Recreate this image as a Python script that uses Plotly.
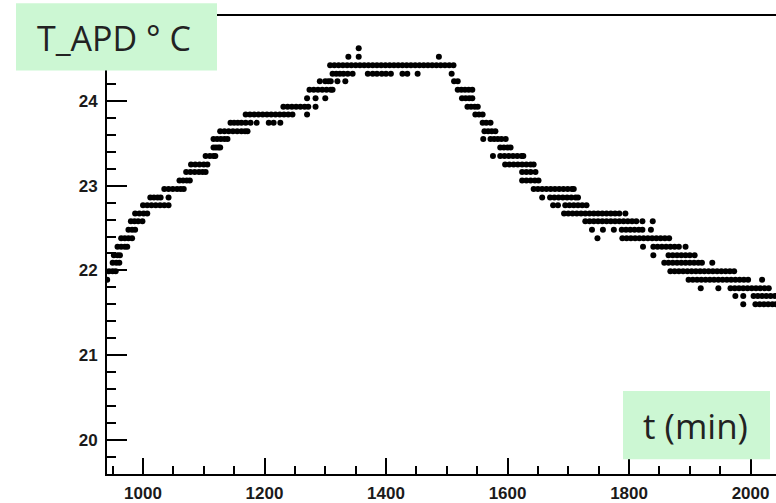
import plotly.graph_objects as go

# Temperature levels (deg C) read from the picture, and the times (min) at which
# points sit on each level.
temp_levels = [
    21.60, 21.70, 21.79, 21.89, 21.99, 22.09, 22.18, 22.28, 22.38, 22.48,
    22.58, 22.67, 22.77, 22.86, 22.96, 23.06, 23.16, 23.25, 23.35, 23.45,
    23.55, 23.64, 23.74, 23.84, 23.93, 24.03, 24.13, 24.23, 24.32, 24.42,
    24.52, 24.62,
]

times_at_level = [
    [1988, 2008, 2015, 2022, 2029, 2036, 2042],
    [1975, 1988, 2005, 2012, 2019, 2026, 2033, 2040],
    [1918, 1947, 1967, 1974, 1981, 1988, 1995, 2002, 2009, 2016, 2023, 2030],
    [941, 1898, 1905, 1912, 1919, 1926, 1933, 1940, 1947, 1954, 1961, 1968,
     1975, 1982, 1989, 1996, 2019],
    [944, 950, 955, 1868, 1875, 1882, 1889, 1896, 1903, 1910, 1917, 1924,
     1931, 1938, 1945, 1952, 1959, 1966, 1973],
    [950, 956, 961, 1858, 1865, 1872, 1879, 1886, 1893, 1900, 1907, 1914,
     1920, 1937],
    [952, 958, 962, 1840, 1865, 1872, 1879, 1886, 1893, 1900, 1908],
    [958, 964, 970, 974, 1823, 1840, 1847, 1854, 1861, 1868, 1875, 1882, 1893],
    [964, 970, 976, 982, 1748, 1789, 1796, 1803, 1810, 1817, 1824, 1831,
     1838, 1845, 1852, 1859, 1866],
    [976, 982, 987, 1739, 1757, 1775, 1788, 1795, 1802, 1809, 1816, 1822, 1836],
    [980, 986, 992, 999, 1728, 1735, 1742, 1749, 1756, 1763, 1770, 1777,
     1784, 1791, 1798, 1805, 1812, 1822, 1839],
    [987, 994, 1001, 1007, 1693, 1700, 1707, 1714, 1721, 1728, 1735, 1742,
     1749, 1756, 1763, 1770, 1777, 1784, 1794],
    [1000, 1007, 1014, 1021, 1028, 1035, 1042, 1675, 1683, 1695, 1702, 1709,
     1716, 1723, 1730],
    [1012, 1018, 1024, 1029, 1042, 1657, 1670, 1677, 1684, 1691, 1698, 1705,
     1712, 1716],
    [1035, 1042, 1049, 1056, 1062, 1067, 1643, 1650, 1657, 1664, 1671, 1678,
     1685, 1692, 1699, 1706, 1709],
    [1060, 1066, 1072, 1077, 1624, 1631, 1638, 1645, 1651],
    [1071, 1078, 1085, 1092, 1098, 1103, 1624, 1631, 1638, 1646],
    [1079, 1086, 1093, 1100, 1106, 1596, 1603, 1610, 1617, 1624, 1631, 1638, 1643],
    [1103, 1110, 1116, 1119, 1576, 1588, 1595, 1602, 1609, 1616, 1623, 1626],
    [1116, 1120, 1124, 1127, 1588, 1594, 1600, 1605],
    [1116, 1122, 1128, 1134, 1139, 1560, 1572, 1578, 1584, 1590, 1597],
    [1127, 1134, 1141, 1148, 1155, 1162, 1168, 1172, 1562, 1568, 1574, 1580],
    [1144, 1150, 1156, 1162, 1169, 1177, 1187, 1207, 1215, 1226, 1559, 1565, 1572],
    [1169, 1176, 1183, 1190, 1197, 1204, 1211, 1218, 1225, 1232, 1239, 1246,
     1270, 1547, 1553, 1559],
    [1231, 1238, 1245, 1252, 1259, 1266, 1272, 1284, 1534, 1540, 1546, 1551],
    [1270, 1284, 1300, 1525, 1531, 1537, 1542],
    [1274, 1281, 1288, 1295, 1302, 1309, 1312, 1518, 1524, 1530, 1536, 1542],
    [1291, 1300, 1305, 1309, 1320, 1333, 1512, 1518],
    [1312, 1318, 1324, 1330, 1337, 1345, 1370, 1378, 1385, 1393, 1400, 1408,
     1427, 1435, 1452, 1508],
    [1308, 1315, 1322, 1329, 1336, 1343, 1350, 1357, 1364, 1371, 1378, 1385,
     1392, 1399, 1406, 1413, 1420, 1427, 1434, 1441, 1448, 1455, 1462, 1469,
     1476, 1483, 1490, 1497, 1504, 1511],
    [1338, 1355, 1487],
    [1355],
]

x_ticks = [1000, 1200, 1400, 1600, 1800, 2000]
y_ticks = [20, 21, 22, 23, 24]
y_title = "T_APD ° C"
x_title = "t (min)"

# flatten into point table
t_pts, T_pts = [], []
for lvl, ts in zip(temp_levels, times_at_level):
    for t in ts:
        t_pts.append(t)
        T_pts.append(lvl)

W, H = 776, 503
L, R, T, B = 107, 0, 16, 24
PW, PH = W - L - R, H - T - B


def px(xp):
    return (xp - L) / PW


def py(yp):
    return (H - B - yp) / PH


fig = go.Figure(go.Scatter(
    x=t_pts, y=T_pts, mode="markers",
    marker=dict(size=6, color="black", line=dict(width=0)),
    hoverinfo="skip", showlegend=False,
))

axis_font = dict(family="Liberation Sans", size=17, color="#1a1a1a", weight="bold")

fig.update_layout(
    width=W, height=H,
    margin=dict(l=L, r=R, t=T, b=B, pad=0),
    paper_bgcolor="white", plot_bgcolor="white",
    xaxis=dict(
        range=[940.7, 2041.9], showgrid=False, zeroline=False,
        showline=True, linecolor="black", linewidth=2, mirror=True,
        tickmode="array", tickvals=x_ticks,
        ticks="inside", ticklen=16, tickwidth=2, tickcolor="black",
        minor=dict(ticks="inside", ticklen=8, tickwidth=2, dtick=50, tick0=950,
                   tickcolor="black", showgrid=False),
        tickfont=axis_font, ticklabelstandoff=3,
    ),
    yaxis=dict(
        range=[19.6, 25.0], showgrid=False, zeroline=False,
        showline=True, linecolor="black", linewidth=2,
        tickmode="array", tickvals=y_ticks,
        ticks="inside", ticklen=20, tickwidth=2, tickcolor="black",
        minor=dict(ticks="inside", ticklen=9, tickwidth=2, dtick=0.2, tick0=20,
                   tickcolor="black", showgrid=False),
        tickfont=axis_font, ticklabelstandoff=4,
    ),
    shapes=[
        dict(type="rect", xref="paper", yref="paper", layer="above",
             x0=px(16), x1=px(217), y0=py(71), y1=py(3),
             fillcolor="#ccf7d3", line=dict(width=0)),
        dict(type="rect", xref="paper", yref="paper", layer="above",
             x0=px(623), x1=px(770), y0=py(464), y1=py(395),
             fillcolor="#ccf7d3", line=dict(width=0)),
    ],
    annotations=[
        dict(text=y_title, xref="paper", yref="paper", x=px(114), y=py(38),
             xanchor="center", yanchor="middle", showarrow=False,
             font=dict(family="Open Sans", size=34, color="#222222")),
        dict(text=x_title, xref="paper", yref="paper", x=px(695), y=py(430),
             xanchor="center", yanchor="middle", showarrow=False,
             font=dict(family="Open Sans", size=35, color="#222222")),
    ],
)

fig.write_html("out.html", config={"displayModeBar": False},
               post_script="document.body.style.margin='0px';")
